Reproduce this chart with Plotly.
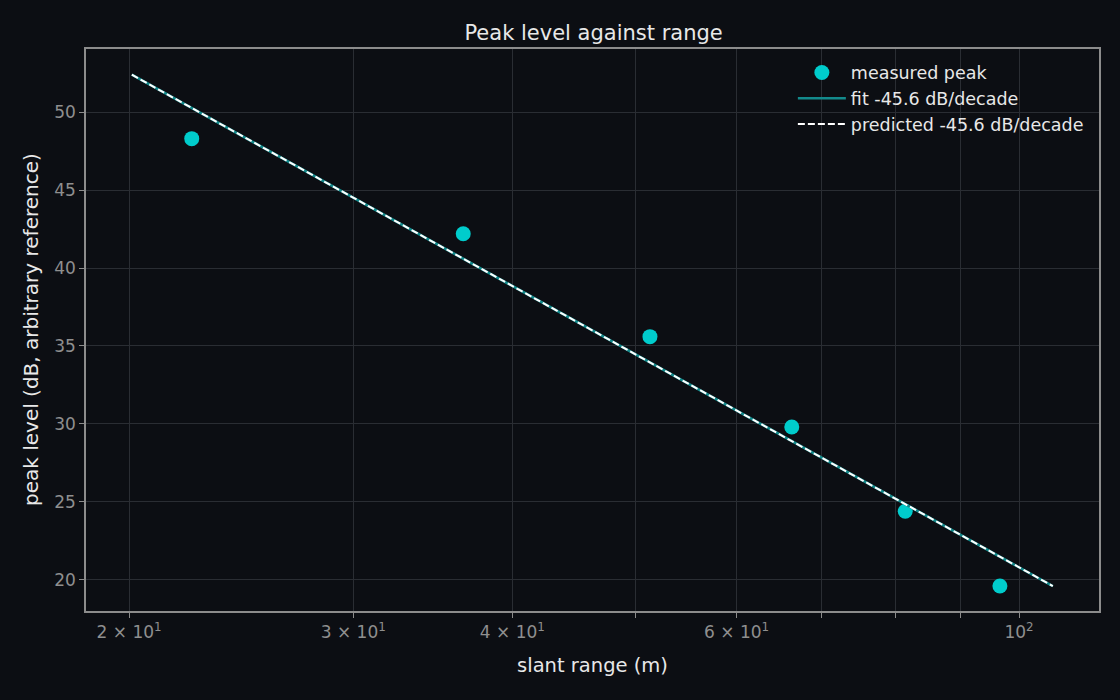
import plotly.graph_objects as go

# measured peaks (slant range in m, level in dB)
range_m = [22.4, 36.6, 51.3, 66.3, 81.4, 96.6]
peak_db = [48.3, 42.2, 35.6, 29.8, 24.4, 19.6]

# fitted / predicted line end points
line_range = [20.1, 106.3]
fit_db = [52.4, 19.6]
pred_db = [52.4, 19.6]

xtick_vals = [20, 30, 40, 50, 60, 70, 80, 90, 100]
xtick_text = ["2 × 10<sup>1</sup>", "3 × 10<sup>1</sup>", "4 × 10<sup>1</sup>", "",
              "6 × 10<sup>1</sup>", "", "", "", "10<sup>2</sup>"]
ytick_vals = [20, 25, 30, 35, 40, 45, 50]

BG = "#0c0e13"
GRID = "#2a2d33"
FRAME = "#8c8c8c"
TICKC = "#8f8f8f"
TEXT = "#e8e8e8"

fig = go.Figure()
fig.add_trace(go.Scatter(
    x=range_m, y=peak_db, mode="markers", name="measured peak",
    marker=dict(color="#00cccc", size=15),
))
fig.add_trace(go.Scatter(
    x=line_range, y=fit_db, mode="lines", name="fit -45.6 dB/decade",
    line=dict(color="#138a8c", width=2.6),
))
fig.add_trace(go.Scatter(
    x=line_range, y=pred_db, mode="lines", name="predicted -45.6 dB/decade",
    line=dict(color="#ffffff", width=2, dash="7px,3px"),
))

axis_common = dict(
    showgrid=True, gridcolor=GRID, gridwidth=1,
    showline=True, linecolor=FRAME, linewidth=1.5, mirror=True,
    ticks="outside", ticklen=5, tickcolor=FRAME,
    tickfont=dict(size=17, color=TICKC),
    zeroline=False,
)

fig.update_layout(
    width=1120, height=700,
    paper_bgcolor=BG, plot_bgcolor=BG,
    font=dict(family="DejaVu Sans", color=TEXT),
    margin=dict(l=86, r=21, t=49, b=89),
    title=dict(text="Peak level against range", x=0.53, xanchor="center",
               y=0.954, yanchor="middle", font=dict(size=21, color=TEXT)),
    showlegend=True,
    legend=dict(x=0.99, y=0.99, xanchor="right", yanchor="top",
                bgcolor="rgba(0,0,0,0)", font=dict(size=17.5, color=TEXT),
                itemwidth=48, tracegroupgap=0),
    xaxis=dict(type="log", range=[1.2672, 2.0628],
               tickvals=xtick_vals, ticktext=xtick_text,
               title=dict(text="slant range (m)", font=dict(size=19.5, color=TEXT), standoff=17),
               **axis_common),
    yaxis=dict(range=[18.0, 54.05], tickvals=ytick_vals, **axis_common),
)

# y axis title as a rotated annotation so it can sit further left
fig.add_annotation(
    text="peak level (dB, arbitrary reference)", textangle=-90,
    xref="paper", yref="paper", x=-55 / 1013, y=0.5,
    xanchor="center", yanchor="middle", showarrow=False,
    font=dict(size=20, color=TEXT),
)

fig.write_html("out.html", config={"displayModeBar": False},
               post_script="document.body.style.margin='0';")
